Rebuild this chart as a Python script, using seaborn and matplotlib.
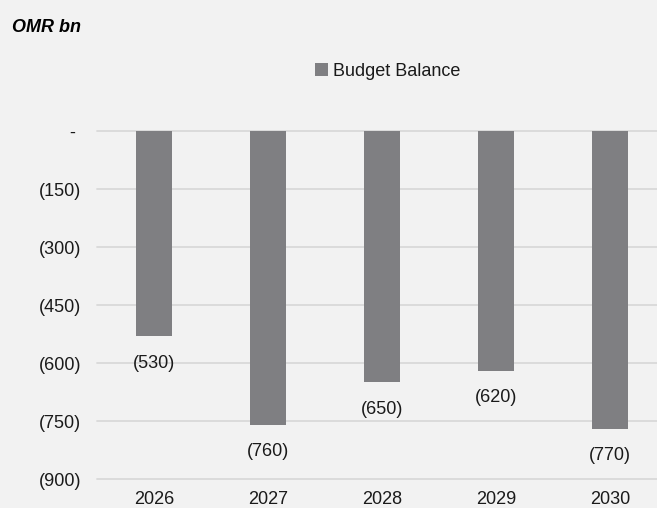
import pandas as pd
import numpy as np
import matplotlib.pyplot as plt
import seaborn as sns
from matplotlib.patches import Patch

# chart data
years = ['2026', '2027', '2028', '2029', '2030']
budget_balance = [-530, -760, -650, -620, -770]
y_ticks = [0, -150, -300, -450, -600, -750, -900]
y_tick_labels = ['- ', '(150)', '(300)', '(450)', '(600)', '(750)', '(900)']

df = pd.DataFrame({'year': years, 'balance': budget_balance})

sns.set_style('white')
plt.rcParams['font.family'] = ['Liberation Sans', 'DejaVu Sans']

bg = '#f2f2f2'
bar_color = '#7f7f82'

fig = plt.figure(figsize=(6.57, 5.08), dpi=100, facecolor=bg)
ax = fig.add_axes([97 / 657, 29 / 508, 560 / 657, 348 / 508])
ax.set_facecolor(bg)

sns.barplot(data=df, x='year', y='balance', color=bar_color, width=0.316,
            saturation=1, linewidth=0, edgecolor='none', ax=ax, zorder=3)

ax.set_xlim(-0.5, 4.41)
ax.set_ylim(-900, 0)
ax.set_yticks(y_ticks)
ax.set_yticklabels(y_tick_labels)
ax.set_xlabel('')
ax.set_ylabel('')

# gridlines (drawn by hand so the zero line isn't clipped)
for t in y_ticks:
    ax.axhline(t, color='#d9d9d9', linewidth=1.3, zorder=1, clip_on=False)

for s in ax.spines.values():
    s.set_visible(False)

ax.tick_params(axis='both', length=0, labelsize=13, colors='#1a1a1a')
ax.tick_params(axis='y', pad=11.5)
ax.tick_params(axis='x', pad=8.5)

# value labels under the bar ends
for i, v in enumerate(budget_balance):
    ax.annotate('({})'.format(abs(v)), xy=(i, v), xytext=(0, -19.5),
                textcoords='offset points', ha='center', va='center',
                fontsize=13, color='#1a1a1a')

fig.text(12 / 657, 1 - 27 / 508, 'OMR bn', fontsize=13, fontweight='bold',
         fontstyle='italic', va='center', ha='left', color='#000000')

handle = Patch(facecolor=bar_color, edgecolor='none', label='Budget Balance')
leg = fig.legend(handles=[handle], loc='center', bbox_to_anchor=(388 / 657, 1 - 71 / 508),
                 frameon=False, fontsize=13, handlelength=0.7, handleheight=0.7,
                 handletextpad=0.3)
for t in leg.get_texts():
    t.set_color('#1a1a1a')

fig.savefig('out.png', dpi=100, facecolor=bg)
